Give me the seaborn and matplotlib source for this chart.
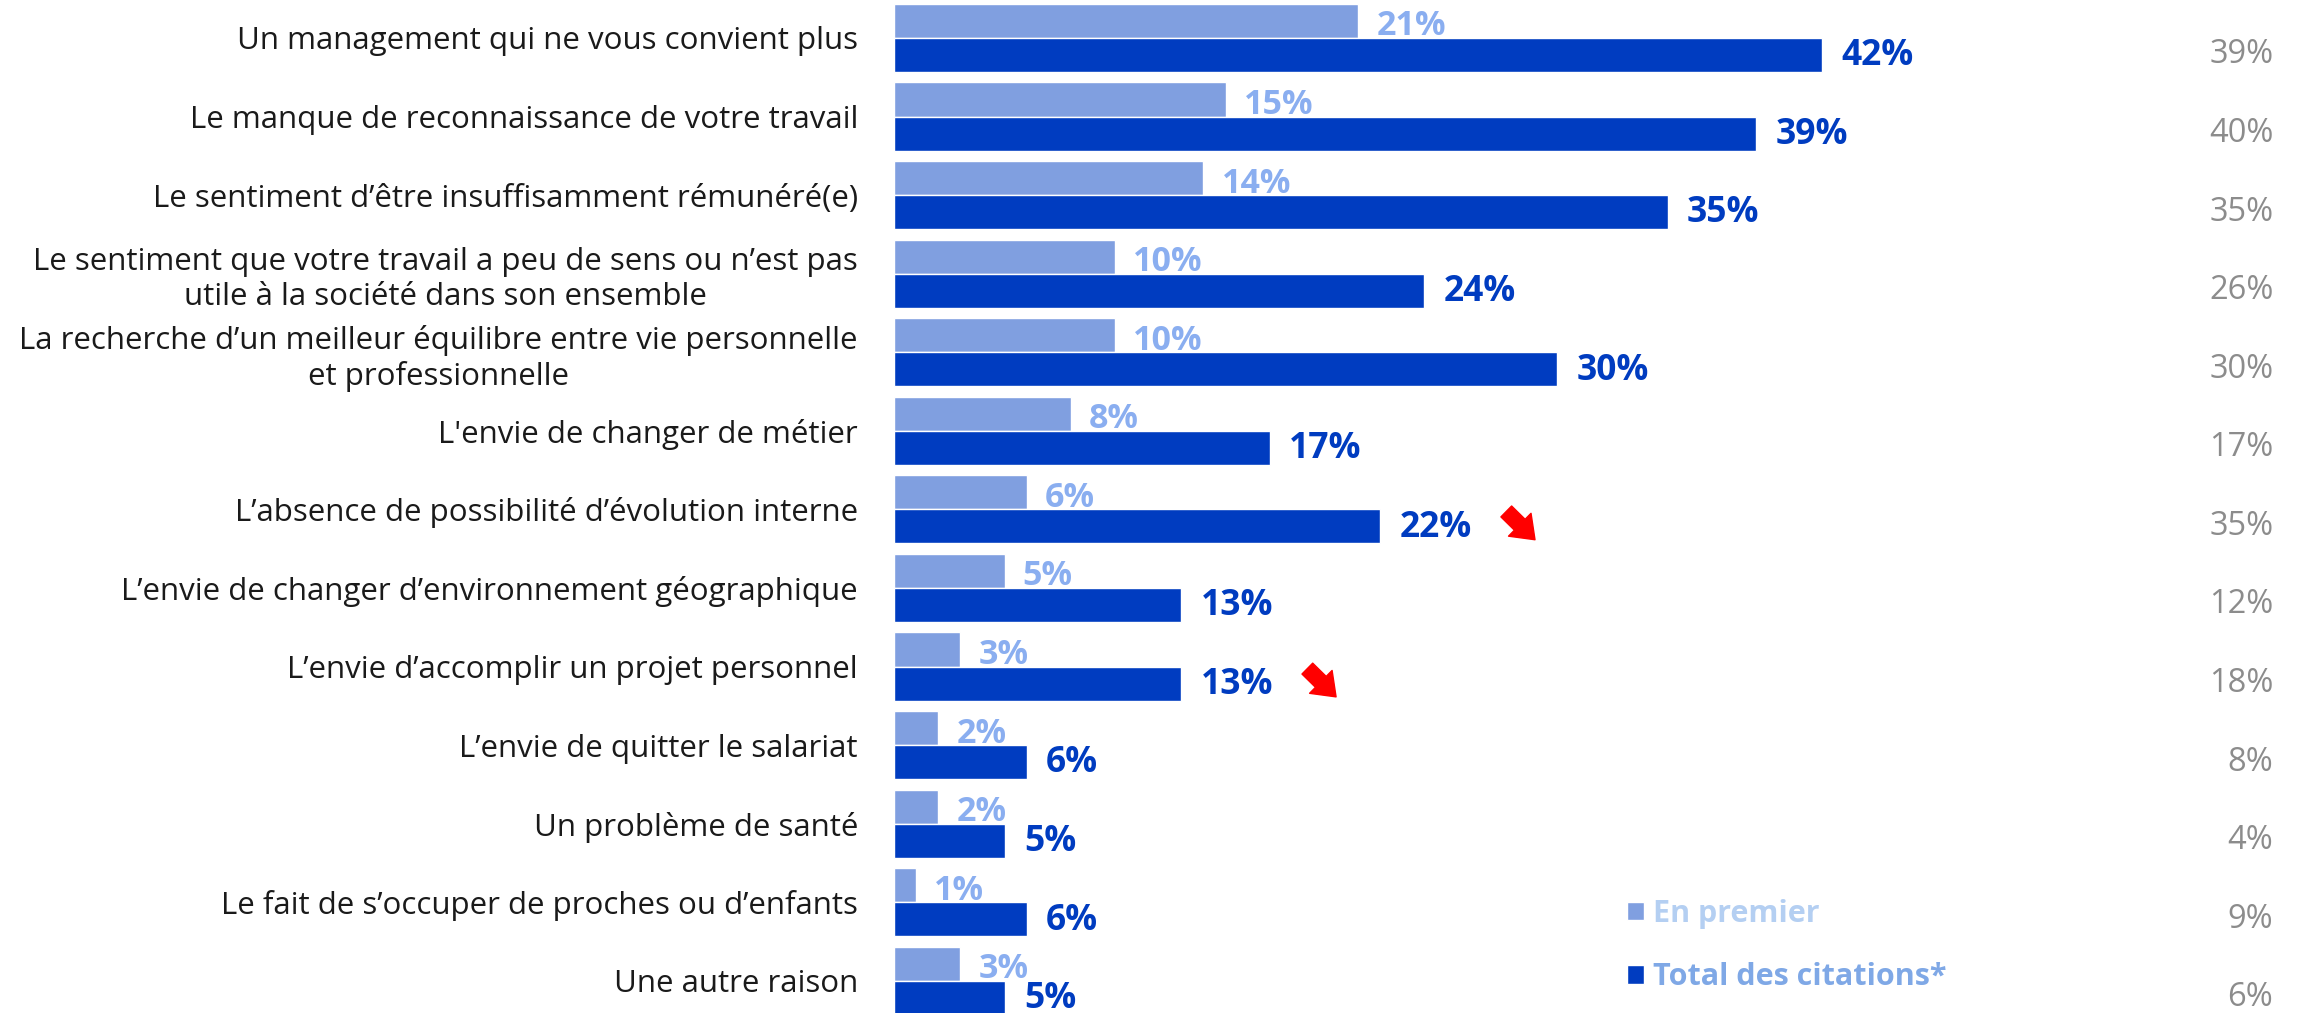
import matplotlib
matplotlib.use("Agg")
from matplotlib import pyplot as plt
import seaborn as sns
import pandas as pd

# reasons, top to bottom
raisons = [
    "Un management qui ne vous convient plus",
    "Le manque de reconnaissance de votre travail",
    "Le sentiment d’être insuffisamment rémunéré(e)",
    "Le sentiment que votre travail a peu de sens ou n’est pas\nutile à la société dans son ensemble",
    "La recherche d’un meilleur équilibre entre vie personnelle\net professionnelle",
    "L'envie de changer de métier",
    "L’absence de possibilité d’évolution interne",
    "L’envie de changer d’environnement géographique",
    "L’envie d’accomplir un projet personnel",
    "L’envie de quitter le salariat",
    "Un problème de santé",
    "Le fait de s’occuper de proches ou d’enfants",
    "Une autre raison",
]
en_premier = [21, 15, 14, 10, 10, 8, 6, 5, 3, 2, 2, 1, 3]
total_citations = [42, 39, 35, 24, 30, 17, 22, 13, 13, 6, 5, 6, 5]
vague_precedente = [39, 40, 35, 26, 30, 17, 35, 12, 18, 8, 4, 9, 6]
en_baisse = [6, 8]  # rows flagged with a red arrow

series = ["En premier", "Total des citations*"]
light, dark = "#809fe0", "#003cc0"

df = pd.DataFrame({
    "raison": raisons * 2,
    "valeur": en_premier + total_citations,
    "serie": [series[0]] * len(raisons) + [series[1]] * len(raisons),
})

sns.set_style("white")
plt.rcParams["font.family"] = ["Open Sans", "DejaVu Sans"]

fig = plt.figure(figsize=(23.02, 10.13), dpi=100)
ax = fig.add_axes([894 / 2302, 0, 1408 / 2302, 1])

sns.barplot(data=df, y="raison", x="valeur", hue="serie", orient="h",
            palette=[light, dark], width=0.866, gap=0, saturation=1,
            errorbar=None, ax=ax)

ax.set_xlim(0, 63.7)
ax.set_ylim(12.41, -0.483)
ax.set_xlabel("")
ax.set_ylabel("")
ax.set_xticks([])
sns.despine(ax=ax, left=True, bottom=True)
ax.tick_params(axis="y", length=0, pad=26, labelsize=22.5, labelcolor="#1a1a1a")
for lbl in ax.get_yticklabels():
    lbl.set_multialignment("center")

# value labels, nudged a little downwards like the original
for t in ax.bar_label(ax.containers[0], fmt="{:.0f}%", padding=13, color="#8aaef0",
                      fontsize=24.5, fontweight="bold"):
    t.set_position((13, -4))
for t in ax.bar_label(ax.containers[1], fmt="{:.0f}%", padding=14, color=dark,
                      fontsize=25.5, fontweight="bold"):
    t.set_position((14, -1))

off = 0.866 / 4
for i, v in enumerate(vague_precedente):
    ax.text(62.4, i + off, f"{v}%", ha="right", va="center",
            fontsize=23.5, color="#8c8c8c")

for i in en_baisse:
    v = total_citations[i]
    ax.annotate("", xy=(v + 7.0, i + off + 0.17), xytext=(v + 5.7, i + off - 0.19),
                arrowprops=dict(arrowstyle="simple,head_length=0.7,head_width=1.05,tail_width=0.5",
                                color="red", mutation_scale=22, shrinkA=0, shrinkB=0))

leg = ax.legend(loc="upper left", bbox_to_anchor=(0.501, 0.14), frameon=False,
                handlelength=0.55, handleheight=0.55, handletextpad=0.3,
                labelspacing=1.1, labelcolor=["#b4cff2", "#7fa8e6"],
                prop={"weight": "bold", "size": 22})

fig.savefig("out.png", dpi=100)
